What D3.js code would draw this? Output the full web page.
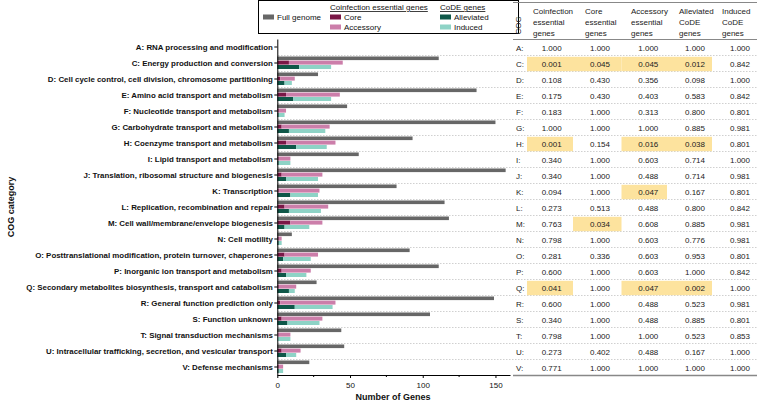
<!DOCTYPE html>
<html><head><meta charset="utf-8">
<script src="https://cdn.jsdelivr.net/npm/d3@7"></script>
<style>body{margin:0;background:#fff} svg{display:block;font-family:"Liberation Sans",Arial,sans-serif}</style>
</head><body><svg id="c" width="757" height="405"></svg>
<script>
const cogCodes = ["A","C","D","E","F","G","H","I","J","K","L","M","N","O","P","Q","R","S","T","U","V"];
const categories = [
 "A: RNA processing and modification",
 "C: Energy production and conversion",
 "D: Cell cycle control, cell division, chromosome partitioning",
 "E: Amino acid transport and metabolism",
 "F: Nucleotide transport and metabolism",
 "G: Carbohydrate transport and metabolism",
 "H: Coenzyme transport and metabolism",
 "I: Lipid transport and metabolism",
 "J: Translation, ribosomal structure and biogenesis",
 "K: Transcription",
 "L: Replication, recombination and repair",
 "M: Cell wall/membrane/envelope biogenesis",
 "N: Cell motility",
 "O: Posttranslational modification, protein turnover, chaperones",
 "P: Inorganic ion transport and metabolism",
 "Q: Secondary metabolites biosynthesis, transport and catabolism",
 "R: General function prediction only",
 "S: Function unknown",
 "T: Signal transduction mechanisms",
 "U: Intracellular trafficking, secretion, and vesicular transport",
 "V: Defense mechanisms"
];
const fullGenome = [0,111,28,137,48,150,93,56,157,82,115,118,10,91,111,27,149,105,44,46,22];
const core       = [0,8,2,6,1,3,6,1,3,1,5,9,1,5,3,1,2,3,0,3,1];
const accessory  = [0,37,10,37,5,33,34,8,28,28,30,22,2,23,20,12,38,28,9,13,3];
const alleviated = [0,15,5,11,1,8,13,1,6,9,8,5,1,4,6,8,12,7,0,6,1];
const induced    = [0,22,5,26,4,25,21,8,22,19,22,17,2,19,14,4,26,22,9,7,3];
const xTicks = [0,50,100,150];
const xMinorTicks = [25,75,125];
const tableHeaders = [["Coinfection","essential","genes"],["Core","essential","genes"],["Accessory","essential","genes"],["Alleviated","CoDE","genes"],["Induced","CoDE","genes"]];
const pCoinfection = ["1.000","0.001","0.108","0.175","0.183","1.000","0.001","0.340","0.340","0.094","0.273","0.763","0.798","0.281","0.600","0.041","0.600","0.340","0.798","0.273","0.771"];
const pCore        = ["1.000","0.045","0.430","0.430","1.000","1.000","0.154","1.000","1.000","1.000","0.513","0.034","1.000","0.336","1.000","1.000","1.000","1.000","1.000","0.402","1.000"];
const pAccessory   = ["1.000","0.045","0.356","0.403","0.313","1.000","0.016","0.603","0.488","0.047","0.488","0.608","0.603","0.603","0.603","0.047","0.488","0.488","1.000","0.488","1.000"];
const pAlleviated  = ["1.000","0.012","0.098","0.583","0.800","0.885","0.038","0.714","0.714","0.167","0.800","0.885","0.776","0.953","1.000","0.002","0.523","0.885","0.523","0.167","1.000"];
const pInduced     = ["1.000","0.842","1.000","0.842","0.801","0.981","0.801","1.000","0.981","0.801","0.842","0.981","0.981","0.801","0.842","1.000","0.981","0.801","0.853","1.000","1.000"];

const colors = {full:"#676767", core:"#7a1747", acc:"#cc7eaa", allev:"#0f5849", ind:"#8ed3c6", hi:"#fde39e"};
const svg = d3.select("#c");
const x = d3.scaleLinear().domain([0,160]).range([277.3,510]);
const y = d3.scaleBand().domain(cogCodes).range([39,375]);
const bw = y.bandwidth();

// separators
const sep = svg.append("g");
cogCodes.slice(0,-1).forEach(c=>{
  const yy = y(c)+bw+0.5;
  sep.append("line").attr("x1",278).attr("x2",757).attr("y1",yy).attr("y2",yy)
    .attr("stroke","#bbb").attr("stroke-width",0.7).attr("stroke-dasharray","1.5,1.5");
});

// table highlights
const tCols = [527,573,621.5,667,712,757];
const pCols = [pCoinfection,pCore,pAccessory,pAlleviated,pInduced];
const tbl = svg.append("g");
pCols.forEach((arr,ci)=>{
  arr.forEach((v,ri)=>{
    if(+v<0.05){
      tbl.append("rect").attr("x",tCols[ci]).attr("width",tCols[ci+1]-tCols[ci])
        .attr("y",y(cogCodes[ri])+1.8).attr("height",bw-1.6).attr("fill",colors.hi);
    }
  });
});

// bars
const gb = svg.append("g");
cogCodes.forEach((c,i)=>{
  const y0 = y(c);
  gb.append("rect").attr("x",x(0)).attr("y",y0+1.5).attr("height",3.6).attr("width",x(fullGenome[i])-x(0)).attr("fill",colors.full);
  gb.append("rect").attr("x",x(0)).attr("y",y0+5.6).attr("height",4).attr("width",x(core[i])-x(0)).attr("fill",colors.core);
  gb.append("rect").attr("x",x(core[i])).attr("y",y0+5.6).attr("height",4).attr("width",x(core[i]+accessory[i])-x(core[i])).attr("fill",colors.acc);
  gb.append("rect").attr("x",x(0)).attr("y",y0+10).attr("height",4).attr("width",x(alleviated[i])-x(0)).attr("fill",colors.allev);
  gb.append("rect").attr("x",x(alleviated[i])).attr("y",y0+10).attr("height",4).attr("width",x(alleviated[i]+induced[i])-x(alleviated[i])).attr("fill",colors.ind);
});

// y axis
const ya = svg.append("g").attr("transform",`translate(${x(0)},0)`)
  .call(d3.axisLeft(y).tickSize(3).tickSizeOuter(0).tickFormat((d,i)=>categories[i]));
ya.selectAll("text").attr("font-size","7.9px").attr("font-weight","bold").attr("fill","#111").attr("font-family","Liberation Sans, Arial, sans-serif").attr("x",-4.5);
ya.select(".domain").attr("stroke","#000");
ya.selectAll(".tick line").attr("stroke","#000");

// x axis
const xa = svg.append("g").attr("transform","translate(0,375)")
  .call(d3.axisBottom(x).tickValues(xTicks).tickSize(3).tickSizeOuter(0));
xa.selectAll("text").attr("font-size","8px").attr("fill","#111").attr("font-family","Liberation Sans, Arial, sans-serif").attr("dy","0.9em");
xa.select(".domain").attr("stroke","#000");
xa.selectAll(".tick line").attr("stroke","#000");
xMinorTicks.forEach(t=>{
  xa.append("line").attr("x1",x(t)).attr("x2",x(t)).attr("y1",0).attr("y2",2).attr("stroke","#000");
});

svg.append("text").attr("x",393).attr("y",400).attr("text-anchor","middle").attr("font-size","9px").attr("font-weight","bold").attr("fill","#111").text("Number of Genes");
svg.append("text").attr("transform","translate(14,207) rotate(-90)").attr("text-anchor","middle").attr("font-size","9px").attr("font-weight","bold").attr("fill","#111").text("COG category");

// legend
const lg = svg.append("g");
lg.append("rect").attr("x",258.5).attr("y",0.5).attr("width",260).attr("height",33).attr("fill","#fff").attr("stroke","#000");
function sw(xx,yy,col,label){
  lg.append("rect").attr("x",xx).attr("y",yy-5.5).attr("width",11).attr("height",5).attr("fill",col);
  lg.append("text").attr("x",xx+14).attr("y",yy).attr("font-size","8px").attr("fill","#111").text(label);
}
sw(263,20,colors.full,"Full genome");
lg.append("text").attr("x",330).attr("y",10).attr("font-size","8px").attr("fill","#111").attr("text-decoration","underline").text("Coinfection essential genes");
sw(330,20,colors.core,"Core");
sw(330,30,colors.acc,"Accessory");
lg.append("text").attr("x",440).attr("y",10).attr("font-size","8px").attr("fill","#111").attr("text-decoration","underline").text("CoDE genes");
sw(440,20,colors.allev,"Alleviated");
sw(440,30,colors.ind,"Induced");

// table
const th = svg.append("g").attr("fill","#222").attr("font-size","8px");
th.append("line").attr("x1",513).attr("x2",757).attr("y1",2.5).attr("y2",2.5).attr("stroke","#888").attr("stroke-width",1);
th.append("line").attr("x1",513).attr("x2",757).attr("y1",39.5).attr("y2",39.5).attr("stroke","#888").attr("stroke-width",1);
th.append("line").attr("x1",513).attr("x2",757).attr("y1",375.5).attr("y2",375.5).attr("stroke","#888").attr("stroke-width",1.5);
th.append("text").attr("transform","translate(521,25.5) rotate(-90)").attr("text-anchor","middle").text("COG");
const hx = [533,585,631,679,722];
tableHeaders.forEach((h,ci)=>{
  h.forEach((line,li)=>{
    th.append("text").attr("x",hx[ci]).attr("y",14+li*11).text(line);
  });
});
const vx = [551.7,600,648.3,695,740];
cogCodes.forEach((c,ri)=>{
  const yy = y(c)+bw/2+4.2;
  th.append("text").attr("x",516).attr("y",yy).text(c+":");
  pCols.forEach((arr,ci)=>{
    th.append("text").attr("x",vx[ci]).attr("y",yy).attr("text-anchor","middle").text(arr[ri]);
  });
});
</script></body></html>
